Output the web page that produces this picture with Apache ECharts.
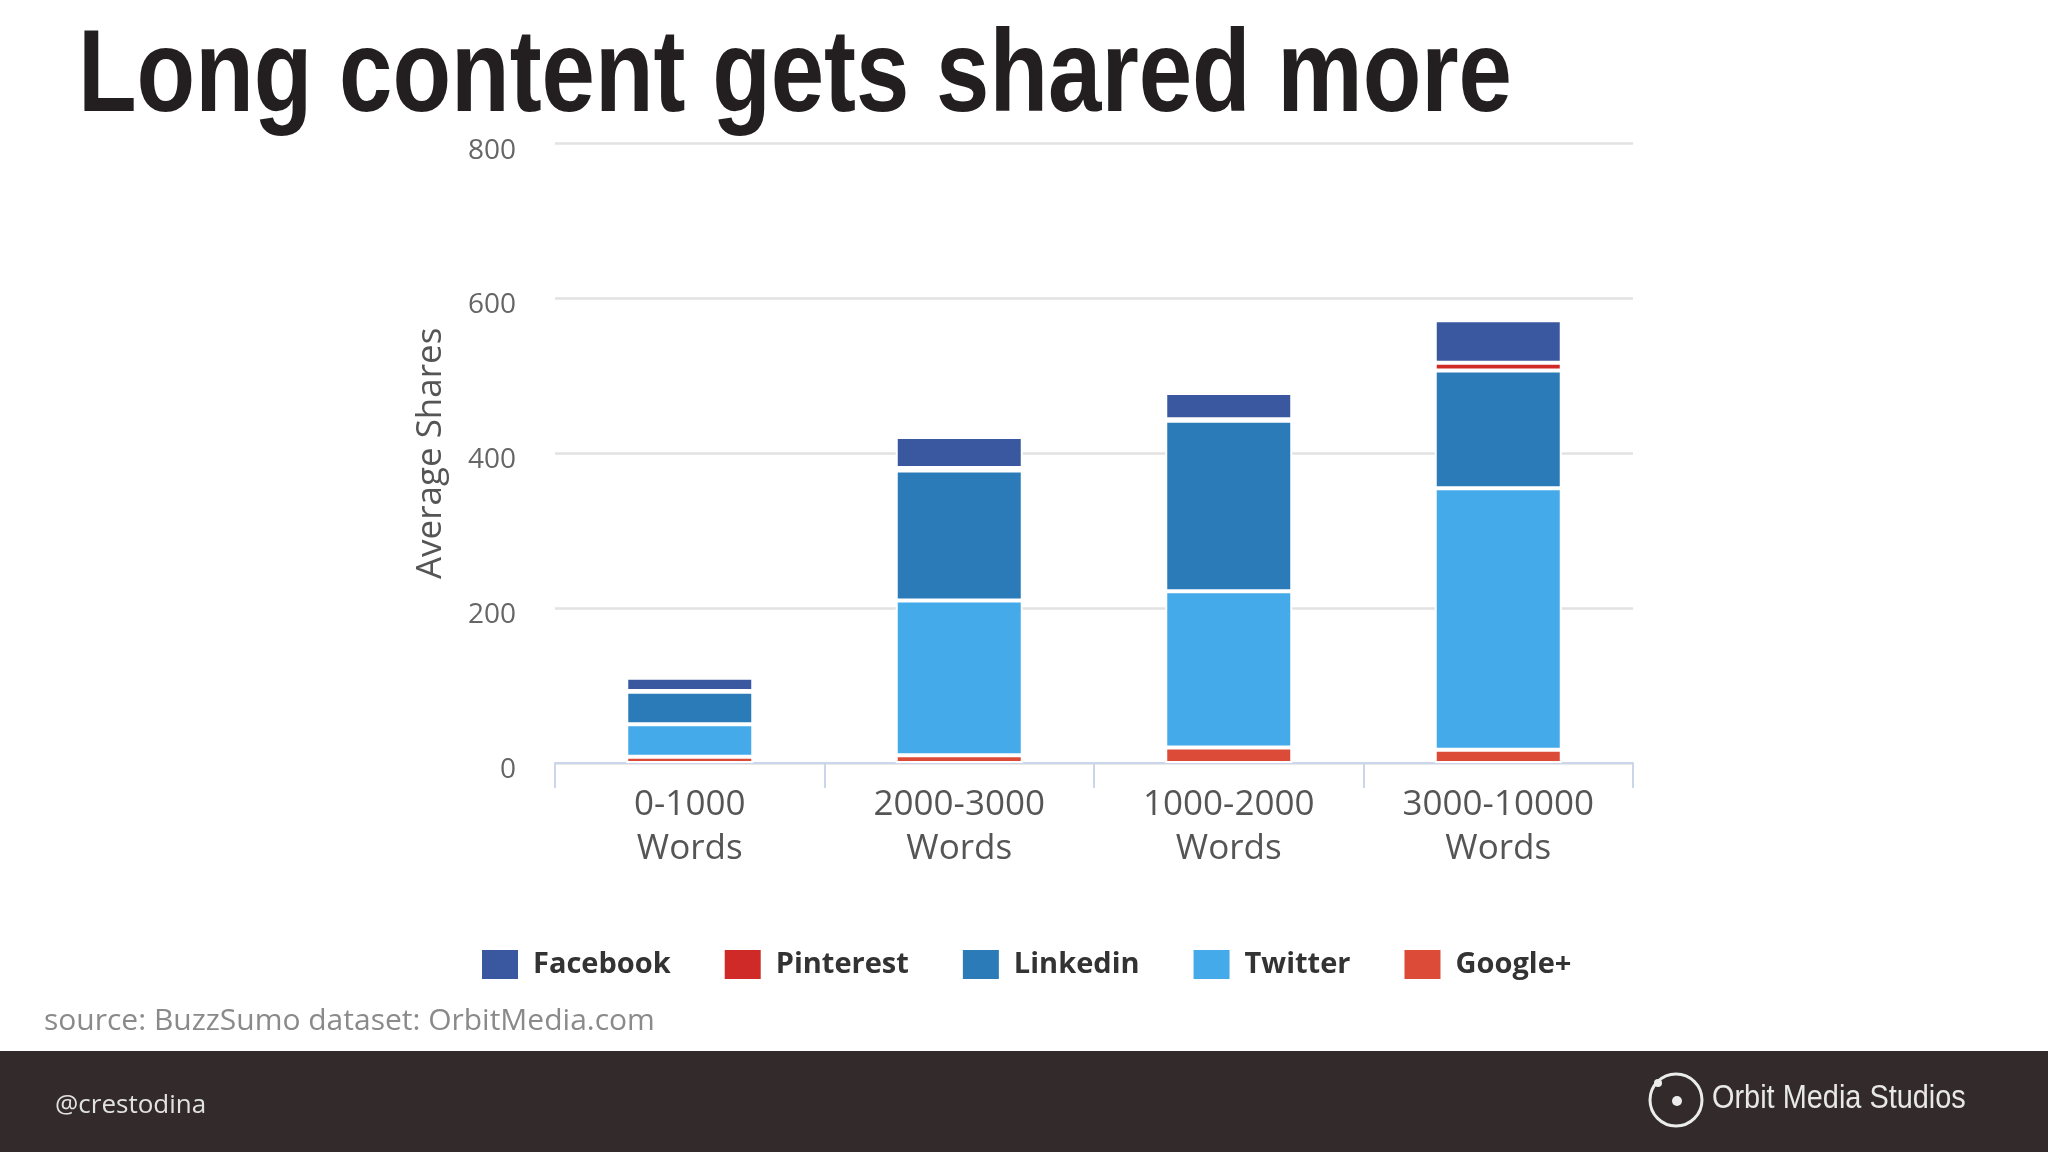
<!DOCTYPE html>
<html>
<head>
<meta charset="utf-8">
<script src="https://cdn.jsdelivr.net/npm/echarts@6/dist/echarts.min.js"></script>
<style>
  html, body { margin: 0; padding: 0; background: #fff; }
  #main { width: 2048px; height: 1152px; }
</style>
</head>
<body>
<div id="main"></div>
<script>
// categories, in the order they appear on the x axis
var categories = ["0-1000\nWords", "2000-3000\nWords", "1000-2000\nWords", "3000-10000\nWords"];

// average shares per network
var facebook = [17, 40, 34, 55];
var pinterest = [1, 3, 2, 10];
var linkedin = [42, 168, 220, 152];
var twitter = [42, 200, 202, 338];
var googlePlus = [8, 10, 20, 17];

var yTicks = [0, 200, 400, 600, 800];
var legendOrder = ["Facebook", "Pinterest", "Linkedin", "Twitter", "Google+"];

var colors = {
  "Facebook": "#3a58a0",
  "Pinterest": "#cf2a27",
  "Linkedin": "#2b7bb9",
  "Twitter": "#44aaea",
  "Google+": "#dc4a38"
};

function barSeries(name, values) {
  return {
    name: name,
    type: "bar",
    stack: "shares",
    barWidth: 127,
    data: values,
    itemStyle: {
      color: colors[name],
      borderColor: "#ffffff",
      borderWidth: 2
    },
    emphasis: { disabled: true }
  };
}

var myChart = echarts.init(document.getElementById("main"));

var option = {
  animation: false,
  backgroundColor: "#ffffff",
  legend: {
    data: legendOrder,
    left: 480,
    top: 948,
    padding: 0,
    icon: "rect",
    itemWidth: 38,
    itemHeight: 31,
    itemGap: 52,
    textStyle: {
      fontFamily: "'Open Sans', sans-serif",
      fontWeight: "bold",
      fontSize: 29,
      color: "#333333",
      padding: [0, 0, 0, 9]
    }
  },
  grid: {
    left: 555,
    right: 415,
    top: 143.7,
    bottom: 389,
    containLabel: false
  },
  xAxis: {
    type: "category",
    data: categories,
    axisLine: { lineStyle: { color: "#ccd6eb", width: 2 } },
    axisTick: { show: true, length: 25, lineStyle: { color: "#ccd6eb", width: 2 } },
    axisLabel: {
      margin: 20,
      fontFamily: "'Open Sans', sans-serif",
      fontSize: 35,
      lineHeight: 44,
      color: "#555555"
    }
  },
  yAxis: {
    type: "value",
    min: yTicks[0],
    max: yTicks[yTicks.length - 1],
    interval: 200,
    name: "Average Shares",
    nameLocation: "middle",
    nameGap: 106,
    nameTextStyle: {
      fontFamily: "'Open Sans', sans-serif",
      fontSize: 35,
      color: "#555555"
    },
    axisLine: { show: false },
    axisTick: { show: false },
    axisLabel: {
      margin: 39,
      fontFamily: "'Open Sans', sans-serif",
      fontSize: 28,
      color: "#666666",
      verticalAlign: "top",
      lineHeight: 14
    },
    splitLine: { lineStyle: { color: "#e2e2e2", width: 2.5 } }
  },
  series: [
    barSeries("Google+", googlePlus),
    barSeries("Twitter", twitter),
    barSeries("Linkedin", linkedin),
    barSeries("Pinterest", pinterest),
    barSeries("Facebook", facebook)
  ],
  graphic: [
    {
      type: "text",
      x: 78,
      y: 20,
      scaleX: 0.82,
      style: {
        text: "Long content gets shared more",
        fontFamily: "'Liberation Sans', Arial, sans-serif",
        fontWeight: "bold",
        fontSize: 117,
        fill: "#231f20",
        verticalAlign: "top"
      }
    },
    {
      type: "text",
      left: 44,
      top: 1006,
      style: {
        text: "source: BuzzSumo dataset: OrbitMedia.com",
        fontFamily: "'Open Sans', sans-serif",
        fontSize: 30,
        fill: "#8a8a8a"
      }
    },
    {
      type: "rect",
      shape: { x: 0, y: 1051, width: 2048, height: 101 },
      style: { fill: "#332b2b" },
      z: -1
    },
    {
      type: "text",
      left: 55,
      top: 1093,
      style: {
        text: "@crestodina",
        fontFamily: "'Open Sans', sans-serif",
        fontSize: 26,
        fill: "#e2e2e2"
      }
    },
    {
      type: "circle",
      shape: { cx: 1676, cy: 1100, r: 26 },
      style: { fill: "none", stroke: "#ececec", lineWidth: 3 }
    },
    {
      type: "circle",
      shape: { cx: 1677, cy: 1101, r: 5 },
      style: { fill: "#ececec" }
    },
    {
      type: "circle",
      shape: { cx: 1658, cy: 1083, r: 4 },
      style: { fill: "#ececec" }
    },
    {
      type: "text",
      x: 1712,
      y: 1082,
      scaleX: 0.85,
      style: {
        text: "Orbit Media Studios",
        fontFamily: "'Liberation Sans', Arial, sans-serif",
        fontSize: 34,
        fill: "#e8e8e8",
        verticalAlign: "top"
      }
    }
  ]
};

myChart.setOption(option);
</script>
</body>
</html>
